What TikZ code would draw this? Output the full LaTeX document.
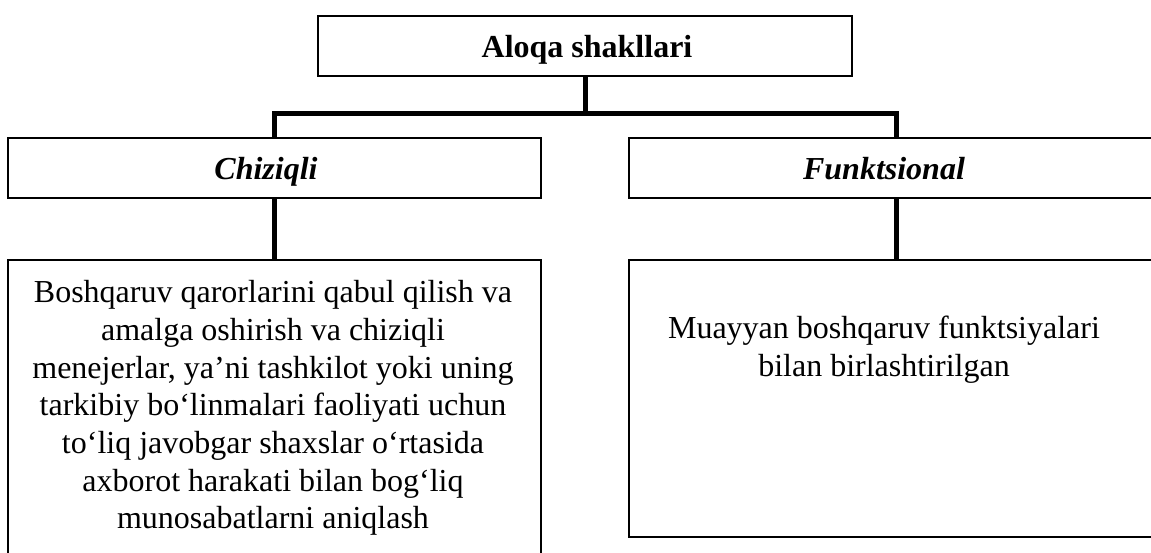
\documentclass[tikz,border=0pt]{standalone}
\usepackage{fontspec}
\setmainfont{Liberation Serif}
\begin{document}
\begin{tikzpicture}[x=1pt,y=-1pt,
  box/.style={draw, line width=1.8pt, rectangle, inner sep=0pt},
  link/.style={line width=5pt, line join=miter},
  txt/.style={font=\fontsize{32}{37.7}\selectfont, align=center, inner sep=0pt},
  head/.style={inner sep=0pt, anchor=base, font=\fontsize{32}{37.7}\selectfont\bfseries}]
\path[use as bounding box, clip] (0,0) rectangle (1151,552);

% boxes
\node[box, minimum width=534, minimum height=60] (top) at (585,46) {};
\node[box, minimum width=533, minimum height=60] (chiz) at (274.5,168) {};
\node[box, minimum width=534, minimum height=60] (funk) at (896,168) {};
\node[box, minimum width=533, minimum height=300] (ldesc) at (274.5,410) {};
\node[box, minimum width=534, minimum height=277] (rdesc) at (896,398.5) {};

% connectors
\coordinate (bus) at (585,113);
\draw[link] (top.south) -- (bus);
\draw[link] (chiz.north) -- (chiz.north |- bus) -- (funk.north |- bus) -- (funk.north);
\draw[link] (chiz.south) -- (ldesc.north);
\draw[link] (funk.south) -- (rdesc.north);

% texts
\node[head] (ttop) at (587,57) {Aloqa shakllari};
\node[head, font=\fontsize{32}{37.7}\selectfont\bfseries\itshape] (tchiz) at (266,179) {Chiziqli};
\node[head, font=\fontsize{32}{37.7}\selectfont\bfseries\itshape] (tfunk) at (884,179) {Funktsional};
\node[txt] (tl) at (273,408) {Boshqaruv qarorlarini qabul qilish va\\
amalga oshirish va chiziqli\\
menejerlar, ya’ni tashkilot yoki uning\\
tarkibiy bo‘linmalari faoliyati uchun\\
to‘liq javobgar shaxslar o‘rtasida\\
axborot harakati bilan bog‘liq\\
munosabatlarni aniqlash};
\node[txt] (tr) at (884,350) {Muayyan boshqaruv funktsiyalari\\
bilan birlashtirilgan};
\end{tikzpicture}
\end{document}
